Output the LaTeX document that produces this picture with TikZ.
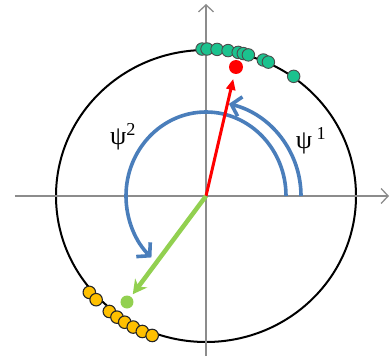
\documentclass[tikz,border=0pt]{standalone}
\usepackage{fontspec}
\setmainfont{Liberation Serif}
\usepackage{xcolor}
\usetikzlibrary{arrows.meta, positioning}
\definecolor{axisGray}{HTML}{8C8C8C}
\definecolor{turnBlue}{HTML}{4A7EBB}
\definecolor{vecRed}{HTML}{FF0000}
\definecolor{vecGreen}{HTML}{92D050}
\definecolor{dotTeal}{HTML}{1BC28E}
\definecolor{dotOrange}{HTML}{FFC000}

\begin{document}
\begin{tikzpicture}[
    x=1pt, y=1pt,
    axis/.style={-{Straight Barb[length=7pt, width=15pt]}, line width=1.3pt, axisGray},
    ring/.style={line width=2pt, black},
    turn/.style={-{Straight Barb[length=9pt, width=20pt]}, line width=3.6pt, turnBlue},
    tdot/.style={circle, draw=black!70, line width=0.9pt, fill=dotTeal,
      inner sep=0pt, minimum size=12.5pt},
    odot/.style={circle, draw=black!85, line width=1.1pt, fill=dotOrange,
      inner sep=0pt, minimum size=12.5pt},
    tip/.style={circle, inner sep=0pt, minimum size=14pt},
    lbl/.style={font=\fontsize{26}{28}\selectfont, inner sep=0pt},
  ]
  \useasboundingbox (-206,-160) rectangle (184,196);

  %% ── Frame ──
  \coordinate (O) at (0,0);
  \coordinate (xl) at (-191,0);
  \coordinate (xr) at (183,0);
  \coordinate (yb) at (0,-160);
  \coordinate (yt) at (0,192);
  \draw[ring] (O) ellipse[x radius=150, y radius=146];
  \draw[axis] (xl) -- (xr);
  \draw[axis] (yb) -- (yt);

  %% ── Rotation arcs ──
  \coordinate (s1) at (95,0);
  \coordinate (s2) at (80,0);
  \draw[turn] (s1) arc[start angle=0, end angle=76, radius=95];
  \draw[turn] (s2) arc[start angle=0, end angle=227, x radius=80, y radius=84];
  \node[lbl] (psi2) at (-83,59) {ψ\textsuperscript{2}};
  \node[lbl] (psi1) at (105,55) {ψ\,\textsuperscript{1}};

  %% ── Samples on the ring ──
  \foreach \a [count=\i] in {91.5,89.6,85.8,81.6,77.7,75.7,73.7,67.7,65.6,54.5}
    \node[tdot] (t\i) at (\a:151 and 147) {};
  \foreach \a [count=\i] in {220.3,224.1,230.8,234.4,237.9,241.6,245.4,249.4}
    \node[odot] (o\i) at (\a:153 and 149) {};

  %% ── Mean vectors ──
  \node[tip, fill=vecRed] (rdot) at (30,129) {};
  \node[tip, fill=vecGreen, minimum size=13pt] (gdot) at (-79,-106) {};
  \draw[vecRed, line width=3pt, -{Triangle[length=11pt, width=9pt]},
    shorten >=5pt] (O) -- (rdot);
  \draw[vecGreen, line width=4.5pt, -{Stealth[length=14pt, width=15pt]},
    shorten >=3pt] (O) -- (gdot);

\end{tikzpicture}
\end{document}
